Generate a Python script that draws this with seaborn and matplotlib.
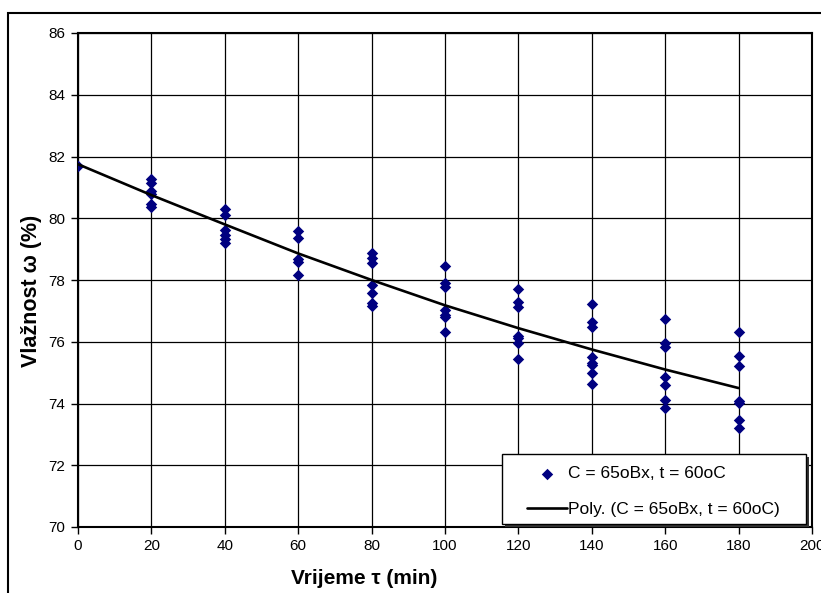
import numpy as np
import pandas as pd
import matplotlib
matplotlib.use("Agg")
import matplotlib.pyplot as plt
import seaborn as sns
from matplotlib.patches import Rectangle

times = [0, 20, 40, 60, 80, 100, 120, 140, 160, 180]
moisture = [
    [81.70],
    [81.26, 81.13, 80.89, 80.79, 80.46, 80.37],
    [80.29, 80.11, 79.62, 79.46, 79.32, 79.21],
    [79.59, 79.37, 78.67, 78.57, 78.16],
    [78.88, 78.70, 78.54, 77.84, 77.59, 77.25, 77.16],
    [78.45, 77.91, 77.76, 77.03, 76.87, 76.79, 76.33],
    [77.70, 77.30, 77.14, 76.19, 76.11, 75.97, 75.44],
    [77.22, 76.65, 76.49, 75.50, 75.32, 75.25, 74.98, 74.63],
    [76.75, 75.97, 75.82, 74.86, 74.60, 74.11, 73.84],
    [76.31, 75.54, 75.22, 74.09, 74.03, 73.47, 73.22],
]
# polynomial trend line values
trend = [81.75, 80.75, 79.80, 78.86, 78.00, 77.18, 76.44, 75.75, 75.10, 74.50]

series_label = "C = 65oBx, t = 60oC"
trend_label = "Poly. (C = 65oBx, t = 60oC)"

rows = [(t, v) for t, vals in zip(times, moisture) for v in vals]
df = pd.DataFrame(rows, columns=["t", "w"])
df_trend = pd.DataFrame({"t": times, "w": trend})

sns.set_style("white")
plt.rcParams["font.family"] = ["Liberation Sans", "DejaVu Sans"]
plt.rcParams["text.color"] = "black"
plt.rcParams["axes.labelcolor"] = "black"
plt.rcParams["xtick.color"] = "black"
plt.rcParams["ytick.color"] = "black"

fig = plt.figure(figsize=(8.21, 5.93), dpi=100)
ax = fig.add_axes([78 / 821, 1 - 527 / 593, (812 - 78) / 821, (527 - 33) / 593])

sns.scatterplot(data=df, x="t", y="w", marker="D", s=34, color="#000080",
                linewidth=0, ax=ax, label=series_label, zorder=3)
sns.lineplot(data=df_trend, x="t", y="w", color="black", linewidth=1.9,
             ax=ax, label=trend_label, zorder=4)

ax.set_xlim(0, 200)
ax.set_ylim(70, 86)
ax.set_xticks(range(0, 201, 20))
ax.set_yticks(range(70, 87, 2))
ax.grid(True, color="black", linewidth=0.9)
ax.set_axisbelow(True)
ax.tick_params(axis="both", direction="out", length=5, width=1, color="black",
               labelsize=11, left=True, bottom=True, pad=4)
for s in ax.spines.values():
    s.set_color("black")
    s.set_linewidth(1.5)

ax.set_xlabel("Vrijeme τ (min)", fontsize=15, fontweight="bold")
ax.set_ylabel("Vlažnost ω (%)", fontsize=15.5, fontweight="bold")
ax.xaxis.set_label_coords((364 - 78) / 734, -0.086)
ax.yaxis.set_label_coords(-0.049, 0.478)

# legend box with shadow, drawn as patches
box = dict(xy=(0.578, 0.0055), width=0.414, height=0.142)
shadow = Rectangle((box["xy"][0] + 0.004, box["xy"][1] - 0.006), box["width"],
                   box["height"], transform=ax.transAxes, facecolor="#333333",
                   edgecolor="none", zorder=5, clip_on=False)
frame = Rectangle(box["xy"], box["width"], box["height"], transform=ax.transAxes,
                  facecolor="white", edgecolor="black", linewidth=1.0,
                  zorder=6, clip_on=False)
ax.add_patch(shadow)
ax.add_patch(frame)

leg = ax.legend(loc="center left", bbox_to_anchor=((527 - 78) / 734, 0.0719),
                fontsize=12.5, frameon=False, borderpad=0, borderaxespad=0,
                labelspacing=1.15, handlelength=2.3, handletextpad=0.05)
leg.set_zorder(7)

# outer chart border
fig.patches.append(Rectangle((8 / 821, -0.1), 1.2, 1.1 - 13 / 593,
                             transform=fig.transFigure, fill=False,
                             edgecolor="black", linewidth=1.5))

fig.savefig("out.png", dpi=100)
